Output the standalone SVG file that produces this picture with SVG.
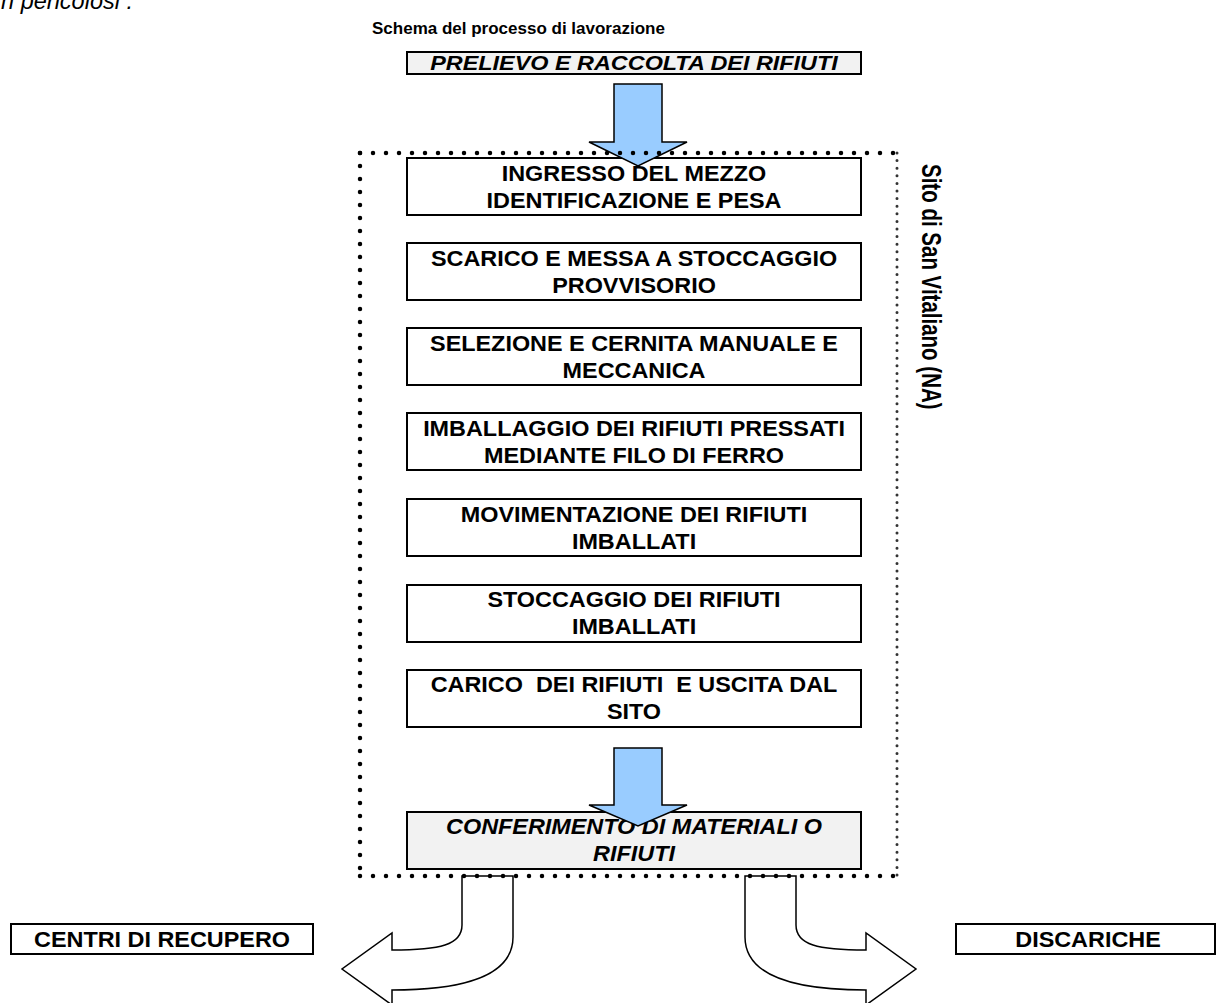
<svg xmlns="http://www.w3.org/2000/svg" width="1218" height="1003" viewBox="0 0 1218 1003">
<style>
.box{fill:#fff;stroke:#000;stroke-width:2}
.gbox{fill:#f2f2f2;stroke:#000;stroke-width:2}
.t{font-family:"Liberation Sans",Arial,sans-serif;font-weight:bold;font-size:22.5px;text-anchor:middle;fill:#000}
.ti{font-style:italic}
.blue{fill:#99ccff;stroke:#000;stroke-width:1.5;stroke-linejoin:miter}
.curve{fill:#fff;stroke:#000;stroke-width:1.5}
.dots{fill:none;stroke:#000;stroke-width:4.5;stroke-dasharray:0 13;stroke-linecap:round}
.dots2{fill:none;stroke:#333;stroke-width:3;stroke-dasharray:0 7.6;stroke-linecap:round}
</style>
<rect width="1218" height="1003" fill="#fff"/>
<text transform="translate(133 9)" style="font-family:'Liberation Sans',Arial,sans-serif;font-size:23.5px;font-style:italic;text-anchor:end">n pericolosi :</text>
<text x="372" y="34" style="font-family:'Liberation Sans',Arial,sans-serif;font-size:17px;font-weight:bold">Schema del processo di lavorazione</text>

<g id="prelievo">
<rect class="gbox" x="407" y="52" width="454" height="22"/>
<text class="t ti" transform="translate(634 69.5) scale(1.17 1)" style="font-size:20px">PRELIEVO E RACCOLTA DEI RIFIUTI</text>
</g>
<g id="ingresso">
<rect class="box" x="407" y="158" width="454" height="57"/>
<text class="t" transform="translate(634 181) scale(1.04 1)">INGRESSO DEL MEZZO</text>
<text class="t" transform="translate(634 208) scale(1.04 1)">IDENTIFICAZIONE E PESA</text>
</g>
<g id="scarico">
<rect class="box" x="407" y="243" width="454" height="57"/>
<text class="t" transform="translate(634 266) scale(1.04 1)">SCARICO E MESSA A STOCCAGGIO</text>
<text class="t" transform="translate(634 293) scale(1.04 1)">PROVVISORIO</text>
</g>
<g id="selezione">
<rect class="box" x="407" y="328" width="454" height="57"/>
<text class="t" transform="translate(634 351) scale(1.04 1)">SELEZIONE E CERNITA MANUALE E</text>
<text class="t" transform="translate(634 378) scale(1.04 1)">MECCANICA</text>
</g>
<g id="imballaggio">
<rect class="box" x="407" y="413" width="454" height="57"/>
<text class="t" transform="translate(634 436) scale(1.04 1)">IMBALLAGGIO DEI RIFIUTI PRESSATI</text>
<text class="t" transform="translate(634 463) scale(1.04 1)">MEDIANTE FILO DI FERRO</text>
</g>
<g id="movimentazione">
<rect class="box" x="407" y="499" width="454" height="57"/>
<text class="t" transform="translate(634 522) scale(1.04 1)">MOVIMENTAZIONE DEI RIFIUTI</text>
<text class="t" transform="translate(634 549) scale(1.04 1)">IMBALLATI</text>
</g>
<g id="stoccaggio">
<rect class="box" x="407" y="585" width="454" height="57"/>
<text class="t" transform="translate(634 607) scale(1.04 1)">STOCCAGGIO DEI RIFIUTI</text>
<text class="t" transform="translate(634 634) scale(1.04 1)">IMBALLATI</text>
</g>
<g id="carico">
<rect class="box" x="407" y="670" width="454" height="57"/>
<text class="t" xml:space="preserve" transform="translate(634 692) scale(1.04 1)">CARICO  DEI RIFIUTI  E USCITA DAL</text>
<text class="t" transform="translate(634 719) scale(1.04 1)">SITO</text>
</g>
<g id="conferimento">
<rect class="gbox" x="407" y="812" width="454" height="57"/>
<text class="t ti" transform="translate(634 834) scale(1.04 1)">CONFERIMENTO DI MATERIALI O</text>
<text class="t ti" transform="translate(634 861) scale(1.04 1)">RIFIUTI</text>
</g>
<g id="centri">
<rect class="box" x="11" y="924" width="302" height="30"/>
<text class="t" transform="translate(162 947) scale(1.04 1)">CENTRI DI RECUPERO</text>
</g>
<g id="discariche">
<rect class="box" x="956" y="924" width="259" height="30"/>
<text class="t" transform="translate(1088 947) scale(1.04 1)">DISCARICHE</text>
</g>

<g id="connectors">
<polygon class="blue" points="614,84 662,84 662,142 687,142 638,166 589,142 614,142"/>
<polygon class="blue" points="614,748 662,748 662,805 687,805 638,826 589,805 614,805"/>
<path class="curve" d="M462,876 L513,876 L513,937 C513,975 465,990 392,990 L392,1005 L342,969 L392,933 L392,950 C440,950 462,945 462,925 Z"/>
<path class="curve" d="M796,876 L745,876 L745,937 C745,975 793,990 866,990 L866,1005 L916,969 L866,933 L866,950 C818,950 796,945 796,925 Z"/>
</g>

<g id="sito">
<path class="dots" d="M360,153 H897"/>
<path class="dots" d="M360,876 H897"/>
<path class="dots" d="M360,153 V876"/>
<path class="dots2" d="M897,153 V876"/>
<text transform="translate(922 164) rotate(90) scale(1 1.32)" style="font-family:'Liberation Sans',Arial,sans-serif;font-weight:bold;font-size:20.5px">Sito di San Vitaliano (NA)</text>
</g>
</svg>
